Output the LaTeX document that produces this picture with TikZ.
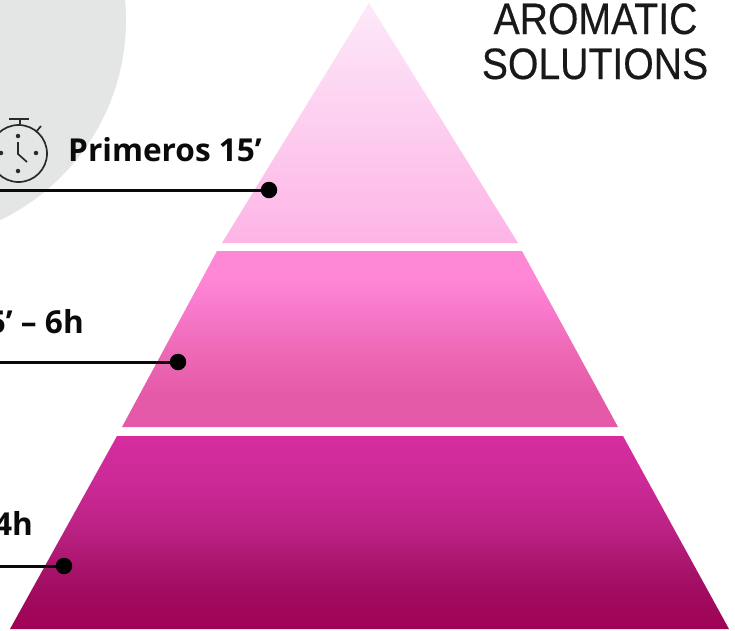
\documentclass[tikz,border=0pt]{standalone}
\usepackage{fontspec}
\setmainfont{Open Sans}
\newfontfamily\logofont[FakeBold=0.4]{Liberation Sans}
\definecolor{discgray}{HTML}{E4E6E5}
\definecolor{inkc}{HTML}{0A0A0A}
\definecolor{watchc}{HTML}{2A2A2A}
\definecolor{aTop}{HTML}{FDE9F9}
\definecolor{aBot}{HTML}{FDB4E6}
\definecolor{bA}{HTML}{FF88D6}
\definecolor{bB}{HTML}{F878CC}
\definecolor{bC}{HTML}{EE6BB8}
\definecolor{bD}{HTML}{E45AA8}
\definecolor{cA}{HTML}{D62C9F}
\definecolor{cB}{HTML}{CC2A97}
\definecolor{cC}{HTML}{BA2182}
\definecolor{cD}{HTML}{AA166E}
\definecolor{cE}{HTML}{A00A5E}
\definecolor{cF}{HTML}{A00354}
\pgfdeclareverticalshading{bandb}{100bp}{
  color(0bp)=(bD); color(25bp)=(bD); color(34bp)=(bD); color(48bp)=(bC); color(58bp)=(bB); color(68bp)=(bA); color(75bp)=(bA); color(100bp)=(bA)}
\pgfdeclareverticalshading{bandc}{100bp}{
  color(0bp)=(cF); color(25bp)=(cF); color(33.5bp)=(cE); color(42bp)=(cD); color(50.5bp)=(cC); color(63.5bp)=(cB); color(75bp)=(cA); color(100bp)=(cA)}
\tikzset{
  lead/.style={draw=inkc,line width=3pt},
  leaddot/.style={circle,fill=black,inner sep=0pt,minimum size=16.5pt},
  timelabel/.style={inner sep=0pt,text=inkc,font=\fontsize{31.6}{36}\selectfont\bfseries},
  logotext/.style={inner sep=0pt,text=black!90,xscale=0.89,font=\logofont\fontsize{44}{46}\selectfont},
  watchline/.style={draw=watchc,line width=1.7pt},
  watchdot/.style={circle,fill=watchc,inner sep=0pt,minimum size=4.5pt}
}
\begin{document}
\begin{tikzpicture}[x=1pt,y=-1pt]
\useasboundingbox (0,0) rectangle (735,630);
\clip (0,0) rectangle (735,630);
\fill[discgray] (-96,20) circle[radius=222];
% pyramid bands
\shade[top color=aTop,bottom color=aBot] (369,3) -- (518,243) -- (222,243) -- cycle;
\shade[shading=bandb] (217,251) -- (522,251) -- (618,427) -- (122,427) -- cycle;
\shade[shading=bandc] (117,436) -- (623,436) -- (729,629) -- (10,629) -- cycle;
% stopwatch
\node[draw=watchc,line width=1.7pt,circle,inner sep=0pt,minimum size=57pt] (watch) at (18.5,153.5) {};
\coordinate (stemTop) at (20,119);
\coordinate (capL) at (9,119);
\coordinate (capR) at (29,119);
\draw[watchline] (capL) -- (capR);
\draw[watchline] (stemTop) -- (watch.north-|stemTop);
\coordinate (tickA) at (36,132);
\coordinate (tickB) at (41,126);
\draw[watchline] (tickA) -- (tickB);
\node[watchdot] (d12) at (18,136) {};
\node[watchdot] (d3) at (36,153) {};
\node[watchdot] (d6) at (18,171) {};
\node[watchdot] (d9) at (1,153) {};
\coordinate (handA) at (18,142);
\coordinate (handB) at (18,154);
\coordinate (handC) at (27,162);
\draw[watchline] (handA) -- (handB) -- (handC);
% time labels
\node[timelabel,anchor=base west] (l1) at (68,161.5) {Primeros 15’};
\node[timelabel,anchor=base east] (l2) at (84,333.5) {15’ – 6h};
\node[timelabel,anchor=base east] (l3) at (33,535.5) {24h};
% leaders
\coordinate (s1) at (0,190);
\coordinate (s2) at (0,362);
\coordinate (s3) at (0,566);
\node[leaddot] (p1) at (269,190) {};
\node[leaddot] (p2) at (178,362) {};
\node[leaddot] (p3) at (64,566) {};
\draw[lead] (s1) -- (p1);
\draw[lead] (s2) -- (p2);
\draw[lead] (s3) -- (p3);
% logo
\node[logotext,transform shape,anchor=base] (logoA) at (595.5,34) {AROMATIC};
\node[logotext,transform shape,anchor=base] (logoB) at (595,79) {SOLUTIONS};
\end{tikzpicture}
\end{document}
